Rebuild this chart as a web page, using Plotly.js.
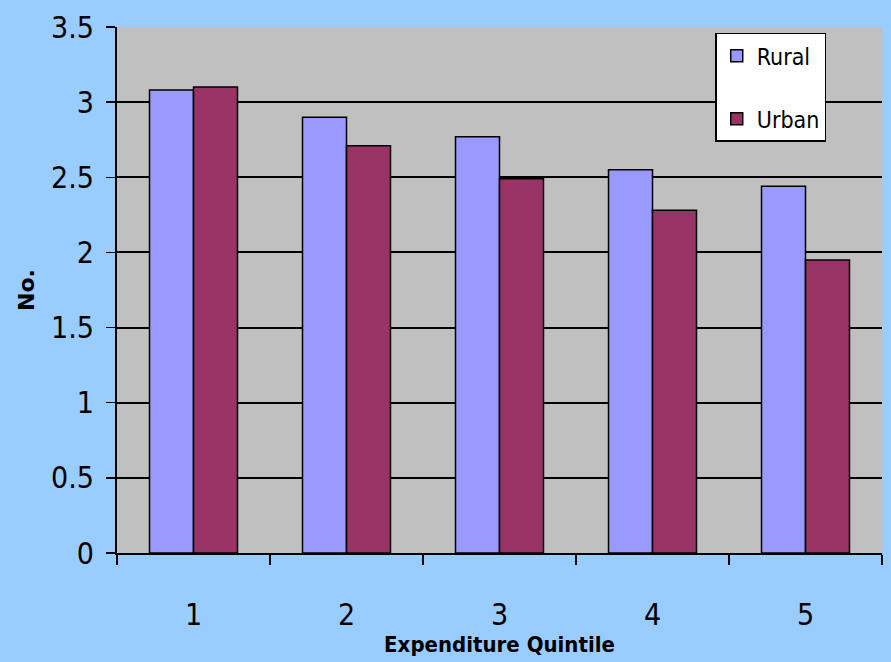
<!DOCTYPE html>
<html>
<head>
<meta charset="utf-8">
<script src="https://cdn.plot.ly/plotly-3.0.1.min.js"></script>
<style>
  html, body { margin: 0; padding: 0; background: #99CCFF; }
  #chart { width: 891px; height: 662px; }
</style>
</head>
<body>
<div id="chart"></div>
<script>
// Average household size by expenditure quintile
const quintiles = ["1", "2", "3", "4", "5"];
const rural = [3.08, 2.90, 2.77, 2.55, 2.44];
const urban = [3.10, 2.71, 2.49, 2.28, 1.95];
const yTicks = [0, 0.5, 1, 1.5, 2, 2.5, 3, 3.5];
const yTickText = ["0", "0.5", "1", "1.5", "2", "2.5", "3", "3.5"];

const narrow = "DejaVu Sans Condensed, DejaVu Sans, sans-serif";

const traces = [
  {
    type: "bar", name: "Rural", x: quintiles, y: rural, legendgroup: "r",
    marker: { color: "#9999FF", line: { color: "#000000", width: 1.5 } }
  },
  {
    type: "bar", name: "Urban", x: quintiles, y: urban, legendgroup: "u",
    marker: { color: "#993366", line: { color: "#000000", width: 1.5 } }
  }
];

const layout = {
  width: 891, height: 662,
  paper_bgcolor: "#99CCFF",
  plot_bgcolor: "#C0C0C0",
  margin: { l: 117, r: 9, t: 27, b: 109 },
  barmode: "group",
  bargap: 0.425,
  bargroupgap: 0,
  showlegend: true,
  legend: {
    x: 0.782, y: 0.989, xanchor: "left", yanchor: "top",
    bgcolor: "#FFFFFF", bordercolor: "#000000", borderwidth: 1.5,
    font: { family: narrow, size: 23, color: "#000000", stretch: "condensed" },
    traceorder: "grouped", tracegroupgap: 30,
    itemwidth: 30
  },
  xaxis: {
    type: "category",
    tickson: "boundaries",
    ticks: "outside", ticklen: 10, tickwidth: 1.5, tickcolor: "#000000",
    showline: true, linecolor: "#000000", linewidth: 2,
    showgrid: false,
    ticklabelstandoff: 34,
    tickfont: { family: narrow, size: 30, color: "#000000", stretch: "condensed" },
    title: {
      text: "<b>Expenditure Quintile</b>",
      font: { family: narrow, size: 22, color: "#000000", stretch: "condensed" },
      standoff: 0
    }
  },
  yaxis: {
    range: [0, 3.5],
    tickvals: yTicks, ticktext: yTickText,
    ticks: "outside", ticklen: 9, tickwidth: 1.5, tickcolor: "#000000",
    showline: true, linecolor: "#000000", linewidth: 2,
    showgrid: true, gridcolor: "#000000", gridwidth: 2,
    zeroline: false,
    ticklabelstandoff: 6,
    tickfont: { family: narrow, size: 30, color: "#000000", stretch: "condensed" },
    title: {
      text: "<b>No.</b>",
      font: { family: "DejaVu Sans, sans-serif", size: 22, color: "#000000" },
      standoff: 10
    }
  }
};

Plotly.newPlot("chart", traces, layout, { displayModeBar: false, staticPlot: true });
</script>
</body>
</html>
